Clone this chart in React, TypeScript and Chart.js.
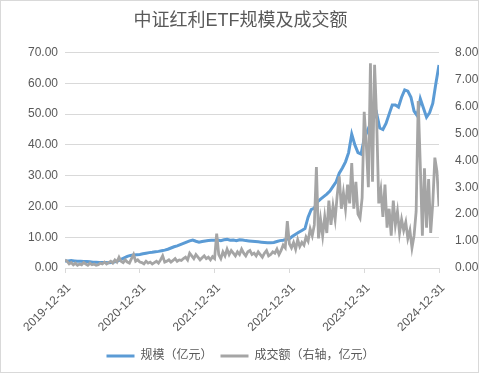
import React, { useEffect, useRef } from "react";
import { Chart, registerables } from "chart.js";

Chart.register(...registerables);

const titleText = "中证红利ETF规模及成交额";
const tickDates = ["2019-12-31", "2020-12-31", "2021-12-31", "2022-12-31", "2023-12-31", "2024-12-31"];
const seriesNames = ["规模（亿元）", "成交额（右轴，亿元）"];

// 规模 (left axis), sampled 24 times per year from 2019-12-31
const scalePerYear = 24;
const scaleValues = [
  2.3, 2.3, 2.4, 2.3, 2.2, 2.2, 2.1, 2.1, 2.0, 1.9, 1.9, 1.8, 1.8, 1.8, 1.7, 1.8, 2.0, 2.3, 2.8, 3.3, 3.8, 4.1, 4.2, 4.3, 4.4,
  4.6, 4.8, 5.0, 5.1, 5.3, 5.4, 5.6, 5.8, 6.1, 6.5, 6.9, 7.2, 7.6, 8.0, 8.4, 8.8, 9.1, 8.7, 8.4, 8.6, 8.8, 8.9, 9.0, 9.0,
  9.1, 8.9, 9.2, 9.3, 9.0, 9.1, 8.9, 9.2, 9.1, 8.9, 8.8, 8.7, 8.6, 8.5, 8.4, 8.3, 8.2, 8.2, 8.3, 8.6, 8.9, 9.0, 9.3, 9.5,
  10.3, 11.0, 11.6, 12.2, 12.8, 16.5, 19.0, 19.5, 21.5, 22.4, 23.2, 24.0, 25.0, 26.5, 28.0, 30.8, 32.5, 34.5, 37.5, 43.5, 40.0, 37.5, 37.0, 42.0,
  44.5, 47.0, 48.5, 50.2, 45.5, 45.0, 47.0, 50.0, 53.0, 53.0, 52.3, 55.5, 57.9, 57.5, 55.5, 51.0, 49.5, 55.0, 52.0, 49.0, 50.5, 53.5, 60.0, 66.0,
];

// 成交额 (right axis), sampled 36 times per year from 2019-12-31
const volumePerYear = 36;
const volumeValues = [
  0.30, 0.25, 0.15, 0.20, 0.12, 0.18, 0.10, 0.15, 0.12, 0.20, 0.15, 0.10, 0.18, 0.12, 0.15, 0.10, 0.12, 0.18, 0.15, 0.22,
  0.15, 0.20, 0.25, 0.18, 0.30, 0.22, 0.40, 0.25, 0.20, 0.30, 0.22, 0.18, 0.35, 0.50, 0.25, 0.30, 0.22,
  0.20, 0.15, 0.25, 0.18, 0.22, 0.15, 0.20, 0.25, 0.18, 0.30, 0.45, 0.22, 0.25, 0.30, 0.22, 0.28, 0.35, 0.25, 0.30, 0.28,
  0.35, 0.40, 0.30, 0.55, 0.45, 0.35, 0.50, 0.40, 0.30, 0.38, 0.45, 0.35, 0.40, 0.30, 0.42, 0.35,
  1.28,
  0.50, 0.35, 0.60, 0.45, 0.70, 0.50, 0.65, 0.55, 0.45, 0.60, 0.50, 0.70, 0.55, 0.45, 0.60, 0.65, 0.50, 0.55, 0.45, 0.60,
  0.50, 0.40, 0.55, 0.65, 0.45, 0.50, 0.60, 0.55, 0.70, 0.50, 0.65, 0.85, 0.75, 1.74, 0.90,
  0.75, 0.95, 0.70, 1.05, 0.80, 0.95, 0.85, 1.15, 1.00, 1.45, 1.20, 1.60, 3.75, 1.10, 1.80, 1.20, 1.90, 1.30, 2.50, 1.60,
  2.30, 1.80, 2.70, 3.40, 2.20, 2.80, 2.20, 3.10, 2.40, 3.90, 2.20, 3.20, 2.00, 1.85, 2.60, 5.80,
  4.60, 3.00, 7.60, 3.20, 7.55, 5.50, 2.40, 2.90, 1.90, 3.10, 1.50, 2.20, 1.20, 2.50, 1.60, 2.10, 1.30, 1.80, 1.40, 1.70,
  1.10, 1.40, 0.75, 1.20, 2.10, 6.20, 3.80, 1.20, 3.70, 1.50, 3.30, 1.30, 2.40, 4.10, 3.60, 2.30,
];

const TEXT = "#595959";
const GRID = "#D9D9D9";
const BLUE = "#5B9BD5";
const GRAY = "#A5A5A5";

export default function App() {
  const ref = useRef<HTMLCanvasElement | null>(null);

  useEffect(() => {
    document.body.style.margin = "0";
    if (!ref.current) return;
    Chart.defaults.font.family = '"Liberation Sans", "Noto Sans CJK SC", sans-serif';
    const baseGen = Chart.defaults.plugins.legend.labels.generateLabels;
    const chart = new Chart(ref.current, {
      type: "line",
      data: {
        datasets: [
          {
            label: seriesNames[0],
            data: scaleValues.map((v, i) => ({ x: i / scalePerYear, y: v })),
            borderColor: BLUE,
            backgroundColor: BLUE,
            borderWidth: 3,
            pointRadius: 0,
            tension: 0,
            yAxisID: "y",
            order: 2,
          },
          {
            label: seriesNames[1],
            data: volumeValues.map((v, i) => ({ x: i / volumePerYear, y: v })),
            borderColor: GRAY,
            backgroundColor: GRAY,
            borderWidth: 2.8,
            pointRadius: 0,
            tension: 0,
            yAxisID: "y1",
            order: 1,
          },
        ],
      },
      options: {
        animation: false,
        responsive: false,
        maintainAspectRatio: false,
        layout: { padding: { left: 0, right: 0, top: 0, bottom: 4 } },
        plugins: {
          tooltip: { enabled: false },
          title: {
            display: true,
            text: titleText,
            color: TEXT,
            font: { size: 18, weight: "normal" },
            padding: { top: 10, bottom: 21 },
          },
          legend: {
            position: "bottom",
            labels: {
              color: TEXT,
              font: { size: 12 },
              boxWidth: 28,
              boxHeight: 3,
              padding: 8,
              sort: (a: any, b: any) => a.datasetIndex - b.datasetIndex,
              generateLabels: (c: any) =>
                baseGen(c).map((l: any) => ({ ...l, lineWidth: 0 })),
            },
          },
        },
        scales: {
          x: {
            type: "linear",
            min: 0,
            max: 5,
            ticks: {
              stepSize: 1,
              color: TEXT,
              font: { size: 12 },
              maxRotation: 45,
              minRotation: 45,
              autoSkip: false,
              padding: 8,
              labelOffset: 4,
              callback: (v: any) => tickDates[Math.round(Number(v))] ?? "",
            },
            grid: { drawOnChartArea: false, color: GRID, tickLength: 5 },
            border: { color: GRID },
            afterFit: (s: any) => {
              s.height = 74;
            },
          },
          y: {
            position: "left",
            min: 0,
            max: 70,
            ticks: {
              stepSize: 10,
              color: TEXT,
              font: { size: 12 },
              padding: 7,
              callback: (v: any) => Number(v).toFixed(2),
            },
            grid: { color: GRID, drawTicks: false },
            border: { display: false },
            afterFit: (s: any) => {
              s.width = 65;
            },
          },
          y1: {
            position: "right",
            min: 0,
            max: 8,
            ticks: {
              stepSize: 1,
              color: TEXT,
              font: { size: 12 },
              padding: 8,
              callback: (v: any) => Number(v).toFixed(2),
            },
            grid: { display: false },
            border: { display: false },
            afterFit: (s: any) => {
              s.width = 42;
            },
          },
        },
      },
    });
    return () => chart.destroy();
  }, []);

  return (
    <div style={{ position: "relative", width: 481, height: 376, background: "#fff" }}>
      <canvas ref={ref} width={481} height={376} style={{ display: "block" }} />
      <div
        style={{
          position: "absolute",
          left: 0,
          top: 0,
          width: 479,
          height: 373,
          boxSizing: "border-box",
          border: "1px solid #D9D9D9",
          pointerEvents: "none",
        }}
      />
    </div>
  );
}
